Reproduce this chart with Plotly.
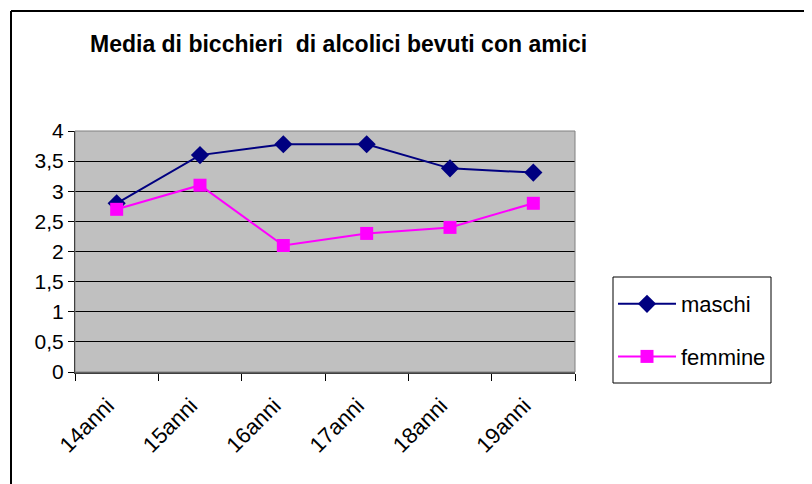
import plotly.graph_objects as go

categories = ["14anni", "15anni", "16anni", "17anni", "18anni", "19anni"]
maschi = [2.8, 3.6, 3.78, 3.78, 3.38, 3.31]
femmine = [2.7, 3.1, 2.1, 2.3, 2.4, 2.8]
ytick_vals = [0, 0.5, 1, 1.5, 2, 2.5, 3, 3.5, 4]
ytick_text = ["0", "0,5", "1", "1,5", "2", "2,5", "3", "3,5", "4"]
title_text = "<b>Media di bicchieri  di alcolici bevuti con amici</b>"

OFF = 8  # page body margin
W, H = 812 - OFF, 484 - OFF
L, R, T, B = 75 - OFF, 575 - OFF, 131 - OFF, 372 - OFF

FONT = "Liberation Sans, Arial, sans-serif"

fig = go.Figure()
fig.add_trace(go.Scatter(
    x=categories, y=maschi, name="maschi", mode="lines+markers",
    line=dict(color="#000080", width=2),
    marker=dict(symbol="diamond", size=14, color="#000080"),
    legendgroup="a",
))
fig.add_trace(go.Scatter(
    x=categories, y=femmine, name="femmine", mode="lines+markers",
    line=dict(color="#FF00FF", width=2),
    marker=dict(symbol="square", size=13, color="#FF00FF"),
    legendgroup="b",
))

def px_x(p):
    return (p - OFF - L) / (R - L)

def px_y(p):
    return (B - (p - OFF)) / (B - T)

shapes = [
    # plot area border
    dict(type="rect", xref="paper", yref="paper", x0=0, x1=1, y0=0, y1=1,
         line=dict(color="#808080", width=1), layer="above"),
    # outer chart frame
    dict(type="line", xref="paper", yref="paper", x0=px_x(11), x1=px_x(11),
         y0=px_y(11), y1=px_y(500), line=dict(color="black", width=2)),
    dict(type="line", xref="paper", yref="paper", x0=px_x(11), x1=px_x(830),
         y0=px_y(11), y1=px_y(11), line=dict(color="black", width=2)),
    # legend frame
    dict(type="rect", xref="paper", yref="paper", x0=px_x(613), x1=px_x(771),
         y0=px_y(383), y1=px_y(277), line=dict(color="black", width=1),
         fillcolor="white", layer="below"),
]

fig.update_layout(
    width=W, height=H,
    margin=dict(l=L, r=W - R, t=T, b=H - B, autoexpand=False),
    paper_bgcolor="white",
    plot_bgcolor="#C0C0C0",
    font=dict(family=FONT, color="black", size=21),
    title=dict(text=title_text, xref="container", yref="container",
               x=(90 - OFF) / W, xanchor="left", y=1 - (44 - OFF) / H, yanchor="middle",
               font=dict(size=23, family=FONT, color="black")),
    showlegend=True,
    legend=dict(
        x=px_x(613), y=px_y(283), xanchor="left", yanchor="top",
        borderwidth=0, bgcolor="rgba(0,0,0,0)",
        font=dict(size=22), tracegroupgap=21, traceorder="grouped",
        itemwidth=58,
    ),
    shapes=shapes,
    xaxis=dict(
        type="category", tickson="boundaries", ticks="outside", ticklen=7,
        tickcolor="black", showline=True, linecolor="#404040", linewidth=2,
        showgrid=False, tickangle=-45, tickfont=dict(size=22),
        ticklabelstandoff=10, ticklabelshift=-9, range=[-0.5, 5.5],
    ),
    yaxis=dict(
        range=[0, 4], tickvals=ytick_vals, ticktext=ytick_text,
        ticks="outside", ticklen=6, tickcolor="black",
        showline=True, linecolor="black", linewidth=1,
        showgrid=True, gridcolor="black", gridwidth=1,
        zeroline=False, tickfont=dict(size=21),
    ),
)

fig.write_html("out.html")
